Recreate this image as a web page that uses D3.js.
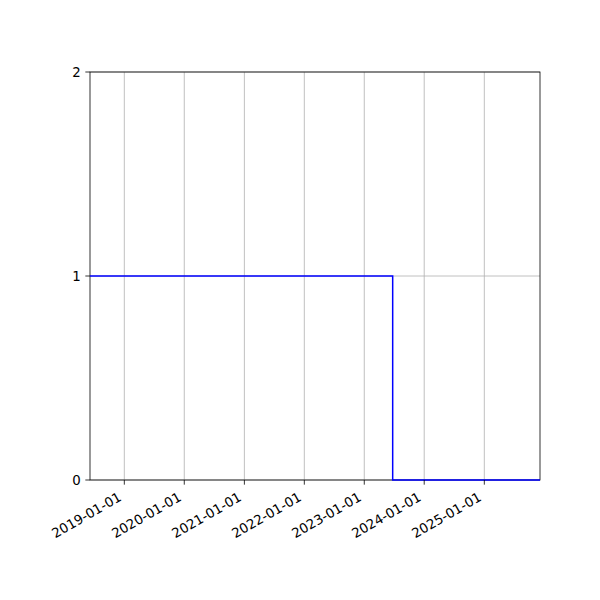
<!DOCTYPE html>
<html><head><meta charset="utf-8">
<script src="https://cdn.jsdelivr.net/npm/d3@7"></script>
<style>body{margin:0;background:#fff}svg{display:block}text{font-family:"DejaVu Sans",sans-serif;font-size:13.33px;fill:#000}</style>
</head><body>
<svg id="c" width="600" height="600"></svg>
<script>
const dates = ["2018-06-06","2023-06-23","2023-06-23","2025-12-06"];
const values = [1,1,0,0];
const xTickLabels = ["2019-01-01","2020-01-01","2021-01-01","2022-01-01","2023-01-01","2024-01-01","2025-01-01"];
const yTicks = [0,1,2];

const parse = d3.utcParse("%Y-%m-%d");
const pts = dates.map((d,i)=>({t:parse(d), v:values[i]}));
const L=90,R=540,T=72,B=480;
const svg = d3.select("#c");
const x = d3.scaleUtc().domain([pts[0].t, pts[pts.length-1].t]).range([L,R]);
const y = d3.scaleLinear().domain([0,2]).range([B,T]);
const xt = xTickLabels.map(parse);

// grid
svg.append("g").selectAll("line").data(xt).join("line")
  .attr("x1",d=>x(d)).attr("x2",d=>x(d)).attr("y1",T).attr("y2",B)
  .attr("stroke","#b0b0b0").attr("stroke-width",0.8);
svg.append("g").selectAll("line").data(yTicks).join("line")
  .attr("x1",L).attr("x2",R).attr("y1",d=>y(d)).attr("y2",d=>y(d))
  .attr("stroke","#b0b0b0").attr("stroke-width",0.8);

// spines
svg.append("rect").attr("x",L).attr("y",T).attr("width",R-L).attr("height",B-T)
  .attr("fill","none").attr("stroke","#000").attr("stroke-width",0.8);

// line
svg.append("path").datum(pts)
  .attr("d", d3.line().x(d=>x(d.t)).y(d=>y(d.v)))
  .attr("fill","none").attr("stroke","#0000ff").attr("stroke-width",1.5);

// x ticks
const xg = svg.append("g");
xg.selectAll("line").data(xt).join("line")
  .attr("x1",d=>x(d)).attr("x2",d=>x(d)).attr("y1",B).attr("y2",B+4.67)
  .attr("stroke","#000").attr("stroke-width",0.8);
xg.selectAll("text").data(xt).join("text")
  .attr("text-anchor","end")
  .attr("transform",d=>`translate(${x(d)-2},${B+4.67+4.67+10.5}) rotate(-30)`)
  .text((d,i)=>xTickLabels[i]);

// y ticks
const yg = svg.append("g");
yg.selectAll("line").data(yTicks).join("line")
  .attr("x1",L-4.67).attr("x2",L).attr("y1",d=>y(d)).attr("y2",d=>y(d))
  .attr("stroke","#000").attr("stroke-width",0.8);
yg.selectAll("text").data(yTicks).join("text")
  .attr("text-anchor","end").attr("dominant-baseline","central")
  .attr("x",L-4.67-4.67).attr("y",d=>y(d)).text(d=>d);
</script>
</body></html>
